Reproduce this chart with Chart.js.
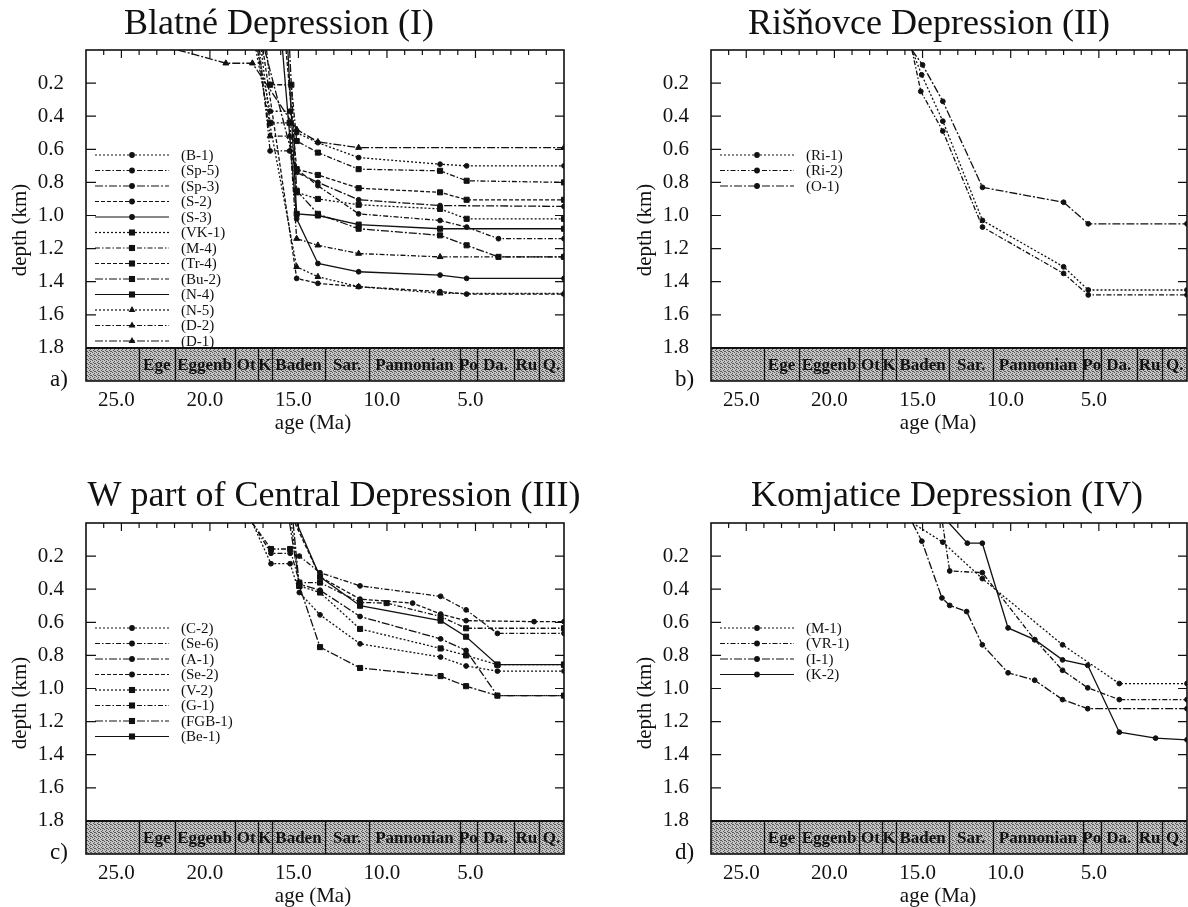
<!DOCTYPE html>
<html>
<head>
<meta charset="utf-8">
<title>Subsidence curves</title>
<script src="https://cdn.jsdelivr.net/npm/chart.js@4.4.1/dist/chart.umd.min.js"></script>
<style>
  html, body { margin: 0; padding: 0; background: #fff; width: 1188px; height: 907px; overflow: hidden; }
  canvas { position: absolute; }
</style>
</head>
<body>
<canvas id="chartA" width="594" height="453" style="left:0;top:0"></canvas>
<canvas id="chartB" width="600" height="453" style="left:594px;top:0"></canvas>
<canvas id="chartC" width="594" height="454" style="left:0;top:453px"></canvas>
<canvas id="chartD" width="600" height="454" style="left:594px;top:453px"></canvas>
<script>
// axis ticks and stratigraphy
const ageTicks = [25, 20, 15, 10, 5];
const depthTicks = [0.2, 0.4, 0.6, 0.8, 1.0, 1.2, 1.4, 1.6, 1.8];
const stageBounds = [27, 24, 22, 18.6, 17.3, 16.5, 13.5, 11.0, 5.9, 4.9, 2.85, 1.4, 0];
const stageNames = ['', 'Ege', 'Eggenb', 'Ot', 'K', 'Baden', 'Sar.', 'Pannonian', 'Po', 'Da.', 'Ru', 'Q.'];

// (a) Blatné Depression - [age Ma, depth km]
const B1  = [[17.3, 0], [16.6, 0.37], [15.5, 0.37], [15.1, 0.50], [13.9, 0.56], [11.6, 0.65], [7.0, 0.69], [5.5, 0.70], [0, 0.70]];
const SP5 = [[17.2, 0], [16.6, 0.61], [15.5, 0.61], [15.1, 0.72], [13.9, 0.82], [11.6, 0.99], [7.0, 1.03], [5.5, 1.07], [3.7, 1.14], [0, 1.14]];
const SP3 = [[16.9, 0], [15.1, 0.74], [13.9, 0.80], [11.6, 0.905], [7.0, 0.94], [0, 0.945]];
const S2  = [[17.0, 0], [15.1, 1.38], [13.9, 1.41], [11.6, 1.43], [7.0, 1.46], [5.5, 1.475], [0, 1.475]];
const S3  = [[15.9, 0], [15.1, 1.02], [13.9, 1.29], [11.6, 1.34], [7.0, 1.36], [5.5, 1.38], [0, 1.38]];
const VK1 = [[17.1, 0], [16.6, 0.44], [15.5, 0.44], [15.1, 0.86], [13.9, 0.90], [11.6, 0.935], [7.0, 0.96], [5.5, 1.02], [0, 1.02]];
const M4  = [[16.8, 0], [16.6, 0.21], [15.4, 0.21], [15.1, 0.55], [13.9, 0.62], [11.6, 0.72], [7.0, 0.73], [5.5, 0.79], [0, 0.80]];
const TR4 = [[15.7, 0], [15.1, 0.72], [13.9, 0.755], [11.6, 0.835], [7.0, 0.86], [5.5, 0.905], [0, 0.905]];
const BU2 = [[15.5, 0], [15.1, 0.85], [13.9, 0.99], [11.6, 1.08], [7.0, 1.12], [5.5, 1.18], [3.7, 1.25], [0, 1.25]];
const N4  = [[15.6, 0], [15.1, 0.99], [13.9, 1.0], [11.6, 1.055], [7.0, 1.08], [0, 1.08]];
const N5  = [[17.4, 0], [15.1, 1.31], [13.9, 1.37], [11.6, 1.43], [7.0, 1.47], [0, 1.47]];
const D2  = [[17.3, 0], [16.6, 0.52], [15.5, 0.52], [15.1, 1.14], [13.9, 1.18], [11.6, 1.23], [7.0, 1.25], [0, 1.25]];
const D1  = [[21.8, 0], [19.1, 0.08], [17.6, 0.08], [15.1, 0.48], [13.9, 0.555], [11.6, 0.59], [0, 0.59]];
const panelALabels = ['(B-1)', '(Sp-5)', '(Sp-3)', '(S-2)', '(S-3)', '(VK-1)', '(M-4)', '(Tr-4)', '(Bu-2)', '(N-4)', '(N-5)', '(D-2)', '(D-1)'];
const panelASeries = [B1, SP5, SP3, S2, S3, VK1, M4, TR4, BU2, N4, N5, D2, D1];
const panelALines = ['dot', 'dashdot', 'longdashdot', 'dash', 'solid', 'dot', 'dashdot', 'dash', 'longdashdot', 'solid', 'dot', 'dashdot', 'longdashdot'];
const panelAMarks = ['c', 'c', 'c', 'c', 'c', 's', 's', 's', 's', 's', 't', 't', 't'];

// (b) Rišňovce Depression
const RI1 = [[15.6, 0], [15.05, 0.15], [13.85, 0.43], [11.6, 1.03], [7.0, 1.31], [5.6, 1.45], [0, 1.45]];
const RI2 = [[15.6, 0], [15.1, 0.25], [13.85, 0.49], [11.6, 1.07], [7.0, 1.35], [5.6, 1.48], [0, 1.48]];
const O1  = [[15.6, 0], [15.0, 0.09], [13.85, 0.31], [11.6, 0.83], [7.0, 0.92], [5.6, 1.05], [0, 1.05]];
const panelBLabels = ['(Ri-1)', '(Ri-2)', '(O-1)'];
const panelBSeries = [RI1, RI2, O1];
const panelBLines = ['dot', 'dashdot', 'longdashdot'];
const panelBMarks = ['c', 'c', 'c'];

// (c) W part of Central Depression
const C2   = [[17.6, 0], [16.55, 0.246], [15.47, 0.246], [14.95, 0.42], [13.78, 0.555], [11.52, 0.73], [6.97, 0.81], [5.53, 0.864], [3.76, 0.895], [0, 0.895]];
const SE6  = [[17.6, 0], [16.55, 0.183], [15.47, 0.183], [14.95, 0.20], [13.78, 0.30], [11.52, 0.38], [6.97, 0.443], [5.53, 0.525], [3.76, 0.667], [0, 0.667]];
const A1   = [[15.5, 0], [14.95, 0.37], [13.78, 0.406], [11.52, 0.565], [6.97, 0.70], [5.53, 0.77], [3.76, 1.043], [0, 1.043]];
const SE2  = [[15.2, 0], [13.78, 0.325], [11.52, 0.46], [8.55, 0.484], [6.97, 0.55], [5.53, 0.59], [1.69, 0.596], [0, 0.596]];
const V2   = [[15.4, 0], [14.95, 0.38], [13.78, 0.42], [11.52, 0.64], [6.97, 0.758], [5.53, 0.80], [3.76, 0.856], [0, 0.856]];
const G1   = [[17.6, 0], [16.55, 0.157], [15.47, 0.157], [14.95, 0.36], [13.78, 0.36], [11.52, 0.48], [10.02, 0.484], [6.97, 0.565], [5.53, 0.636], [0, 0.636]];
const FGB1 = [[15.3, 0], [14.95, 0.38], [13.78, 0.75], [11.52, 0.876], [6.97, 0.925], [5.53, 0.986], [3.76, 1.043], [0, 1.043]];
const BE1  = [[15.1, 0], [13.78, 0.325], [11.52, 0.50], [6.97, 0.59], [5.53, 0.687], [3.76, 0.856], [0, 0.856]];
const panelCLabels = ['(C-2)', '(Se-6)', '(A-1)', '(Se-2)', '(V-2)', '(G-1)', '(FGB-1)', '(Be-1)'];
const panelCSeries = [C2, SE6, A1, SE2, V2, G1, FGB1, BE1];
const panelCLines = ['dot', 'dashdot', 'longdashdot', 'dash', 'dot', 'dashdot', 'longdashdot', 'solid'];
const panelCMarks = ['c', 'c', 'c', 'c', 's', 's', 's', 's'];

// (d) Komjatice Depression
const M1  = [[15.57, 0], [13.85, 0.116], [11.61, 0.336], [7.06, 0.736], [3.84, 0.97], [0, 0.97]];
const VR1 = [[13.87, 0], [13.46, 0.29], [11.61, 0.30], [8.64, 0.705], [7.06, 0.89], [5.63, 0.996], [3.84, 1.067], [0, 1.067]];
const I1  = [[15.57, 0], [15.04, 0.11], [13.9, 0.453], [13.46, 0.498], [12.5, 0.535], [11.61, 0.736], [10.15, 0.905], [8.64, 0.95], [7.06, 1.067], [5.63, 1.122], [0, 1.122]];
const K2  = [[13.5, 0], [12.46, 0.122], [11.61, 0.122], [10.15, 0.634], [8.64, 0.705], [7.06, 0.827], [5.63, 0.86], [3.84, 1.264], [1.78, 1.30], [0, 1.31]];
const panelDLabels = ['(M-1)', '(VR-1)', '(I-1)', '(K-2)'];
const panelDSeries = [M1, VR1, I1, K2];
const panelDLines = ['dot', 'dashdot', 'longdashdot', 'solid'];
const panelDMarks = ['c', 'c', 'c', 'c'];

const FONT = "'Liberation Serif', 'DejaVu Serif', serif";
const INK = '#111';
const dashes = { dot: [2, 2], dashdot: [5, 2, 1.5, 2], longdashdot: [8, 2, 2, 2], dash: [4, 2], solid: [] };
const markStyle = { c: 'circle', s: 'rect', t: 'triangle' };
const markRadius = { c: 2.4, s: 3.6, t: 3.4 };

function buildDatasets(labels, series, lines, marks) {
    return series.map((s, i) => ({
        label: labels[i],
        data: s.map(p => ({ x: p[0], y: p[1] })),
        borderColor: INK,
        backgroundColor: INK,
        borderWidth: 1.3,
        borderDash: dashes[lines[i]],
        pointStyle: markStyle[marks[i]],
        pointRadius: ctx => (ctx.raw && ctx.raw.y === 0 ? 0 : markRadius[marks[i]]),
        pointBorderWidth: 1,
        pointBorderColor: INK,
        pointBackgroundColor: INK,
        tension: 0
    }));
}

function bandPattern(ctx) {
    const c = document.createElement('canvas');
    c.width = 4; c.height = 4;
    const g = c.getContext('2d');
    g.fillStyle = '#c4c4c4';
    g.fillRect(0, 0, 4, 4);
    g.fillStyle = '#5a5a5a';
    [[0, 0], [2, 1], [1, 2], [3, 3], [2, 3]].forEach(d => g.fillRect(d[0], d[1], 1, 1));
    return ctx.createPattern(c, 'repeat');
}

function drawMark(ctx, style, x, y, r) {
    ctx.beginPath();
    if (style === 'circle') {
        ctx.arc(x, y, r + 0.5, 0, Math.PI * 2);
    } else if (style === 'rect') {
        const h = r * Math.SQRT1_2 + 0.5;
        ctx.rect(x - h, y - h, 2 * h, 2 * h);
    } else {
        const rr = r + 0.5;
        ctx.moveTo(x, y - rr);
        ctx.lineTo(x + rr * 0.87, y + rr * 0.5);
        ctx.lineTo(x - rr * 0.87, y + rr * 0.5);
        ctx.closePath();
    }
    ctx.fill();
}

function panelDecor(p) {
    return {
        id: 'panelDecor',
        afterDatasetsDraw(chart) {
            const ctx = chart.ctx, a = chart.chartArea;
            const xs = chart.scales.x, ys = chart.scales.y;
            const yTop = ys.getPixelForValue(1.8), yBot = ys.getPixelForValue(2.0);
            ctx.save();
            ctx.fillStyle = bandPattern(ctx);
            ctx.fillRect(a.left, yTop, a.right - a.left, yBot - yTop);
            ctx.strokeStyle = INK;
            ctx.lineWidth = 1.3;
            for (let i = 1; i < stageBounds.length - 1; i++) {
                const px = Math.round(xs.getPixelForValue(stageBounds[i])) + 0.5;
                ctx.beginPath();
                ctx.moveTo(px, yTop);
                ctx.lineTo(px, yBot);
                ctx.stroke();
            }
            ctx.lineWidth = 2;
            ctx.beginPath();
            ctx.moveTo(a.left, yTop);
            ctx.lineTo(a.right, yTop);
            ctx.stroke();
            ctx.fillStyle = INK;
            ctx.font = 'bold 17px ' + FONT;
            ctx.textAlign = 'center';
            ctx.textBaseline = 'middle';
            for (let i = 0; i < stageNames.length; i++) {
                if (!stageNames[i]) continue;
                const cx = (xs.getPixelForValue(stageBounds[i]) + xs.getPixelForValue(stageBounds[i + 1])) / 2;
                ctx.fillText(stageNames[i], cx, (yTop + yBot) / 2 + 1);
            }
            ctx.restore();
        },
        afterDraw(chart) {
            const ctx = chart.ctx, a = chart.chartArea;
            const xs = chart.scales.x, ys = chart.scales.y;
            ctx.save();
            ctx.strokeStyle = INK;
            ctx.lineWidth = 1.6;
            ctx.strokeRect(a.left, a.top, a.right - a.left, a.bottom - a.top);
            // inward tick marks on the frame
            ctx.lineWidth = 1.2;
            for (let m = 1; m < 27; m++) {
                const px = xs.getPixelForValue(m);
                const len = m % 5 === 0 ? 8 : 5;
                ctx.beginPath();
                ctx.moveTo(px, a.top);
                ctx.lineTo(px, a.top + len);
                ctx.stroke();
            }
            depthTicks.forEach(v => {
                const py = ys.getPixelForValue(v);
                ctx.beginPath();
                ctx.moveTo(a.left, py);
                ctx.lineTo(a.left + 10, py);
                ctx.moveTo(a.right, py);
                ctx.lineTo(a.right - 9, py);
                ctx.stroke();
            });
            // legend
            ctx.font = '15px ' + FONT;
            ctx.textAlign = 'left';
            ctx.textBaseline = 'middle';
            ctx.fillStyle = INK;
            const lx = a.left + 9;
            chart.data.datasets.forEach((ds, i) => {
                const ly = a.top + 105 + i * 15.5;
                ctx.lineWidth = 1.2;
                ctx.setLineDash(ds.borderDash);
                ctx.beginPath();
                ctx.moveTo(lx, ly);
                ctx.lineTo(lx + 74, ly);
                ctx.stroke();
                ctx.setLineDash([]);
                drawMark(ctx, ds.pointStyle, lx + 37, ly, ds.pointStyle === 'rect' ? 3.6 : (ds.pointStyle === 'triangle' ? 3.4 : 2.4));
                ctx.fillText(ds.label, lx + 86, ly + 1);
            });
            // titles and axis names
            ctx.textBaseline = 'alphabetic';
            ctx.textAlign = 'center';
            ctx.font = '36px ' + FONT;
            ctx.fillText(p.title, p.titleX - p.ox, p.titleY - p.oy);
            ctx.font = '21px ' + FONT;
            ctx.fillText('age (Ma)', p.ageX - p.ox, p.ageY - p.oy);
            ctx.textAlign = 'left';
            ctx.font = '23px ' + FONT;
            ctx.fillText(p.letter, a.left - 36, a.bottom + 5);
            ctx.font = '21px ' + FONT;
            ctx.translate(a.left - 66, a.top + 180);
            ctx.rotate(-Math.PI / 2);
            ctx.textAlign = 'center';
            ctx.textBaseline = 'middle';
            ctx.fillText('depth (km)', 0, 0);
            ctx.restore();
        }
    };
}

function makeChart(id, p, labels, series, lines, marks) {
    return new Chart(document.getElementById(id), {
        type: 'line',
        data: { datasets: buildDatasets(labels, series, lines, marks) },
        options: {
            responsive: false,
            animation: false,
            events: [],
            layout: { autoPadding: false, padding: { left: 0, right: p.padRight, top: p.padTop, bottom: p.padBottom } },
            plugins: { legend: { display: false }, tooltip: { enabled: false }, title: { display: false } },
            scales: {
                x: {
                    type: 'linear', min: 0, max: 27, reverse: true,
                    grid: { display: false, drawTicks: false },
                    border: { display: false },
                    afterBuildTicks: s => { s.ticks = ageTicks.map(v => ({ value: v })); },
                    afterFit: s => { s.height = 40; },
                    ticks: {
                        autoSkip: false, maxRotation: 0, padding: 7, labelOffset: -5, color: INK,
                        font: { family: FONT, size: 21 },
                        callback: v => Number(v).toFixed(1)
                    }
                },
                y: {
                    type: 'linear', min: 0, max: 2.0, reverse: true,
                    grid: { display: false, drawTicks: false },
                    border: { display: false },
                    afterBuildTicks: s => { s.ticks = depthTicks.map(v => ({ value: v })); },
                    afterFit: s => { s.width = p.yWidth; },
                    ticks: {
                        autoSkip: false, padding: 22, color: INK,
                        font: { family: FONT, size: 21 },
                        callback: v => Number(v).toFixed(1)
                    }
                }
            }
        },
        plugins: [panelDecor(p)]
    });
}

makeChart('chartA', { ox: 0, oy: 0, yWidth: 86, padRight: 30, padTop: 50, padBottom: 32,
    title: 'Blatné Depression (I)', titleX: 279, titleY: 34, ageX: 313, ageY: 429, letter: 'a)' },
    panelALabels, panelASeries, panelALines, panelAMarks);
makeChart('chartB', { ox: 594, oy: 0, yWidth: 117, padRight: 7, padTop: 50, padBottom: 32,
    title: 'Rišňovce Depression (II)', titleX: 929, titleY: 34, ageX: 938, ageY: 429, letter: 'b)' },
    panelBLabels, panelBSeries, panelBLines, panelBMarks);
makeChart('chartC', { ox: 0, oy: 453, yWidth: 86, padRight: 30, padTop: 70, padBottom: 13,
    title: 'W part of Central Depression (III)', titleX: 334, titleY: 506, ageX: 313, ageY: 902, letter: 'c)' },
    panelCLabels, panelCSeries, panelCLines, panelCMarks);
makeChart('chartD', { ox: 594, oy: 453, yWidth: 117, padRight: 7, padTop: 70, padBottom: 13,
    title: 'Komjatice Depression (IV)', titleX: 947, titleY: 506, ageX: 938, ageY: 902, letter: 'd)' },
    panelDLabels, panelDSeries, panelDLines, panelDMarks);
</script>
</body>
</html>
